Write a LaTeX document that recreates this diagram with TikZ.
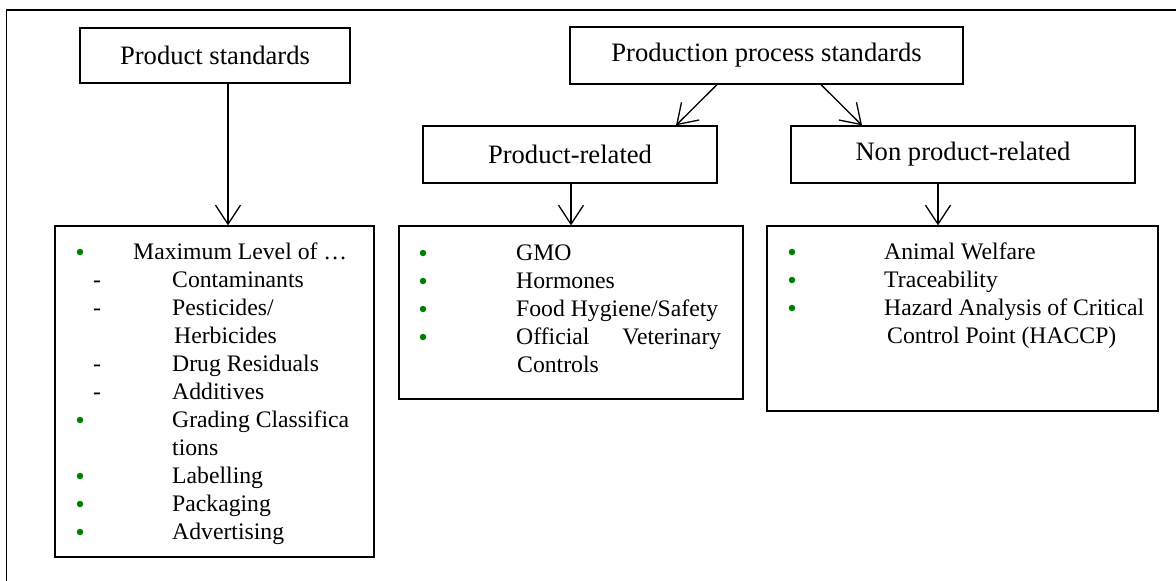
\documentclass[tikz,border=0pt]{standalone}
\usepackage{fontspec}
\setmainfont{Liberation Serif}
\usetikzlibrary{arrows.meta}
\definecolor{bulletgreen}{RGB}{0,128,0}
\begin{document}
\begin{tikzpicture}[x=1pt,y=-1pt,
  box/.style={draw,line width=1.3pt,inner sep=0pt,font=\fontsize{26.6}{30}\selectfont},
  lbox/.style={draw,line width=1.3pt,inner sep=0pt},
  arr/.style={line width=1.3pt,-{Straight Barb[length=19pt,width=25pt,line width=1.3pt]}},
  txt/.style={anchor=base west,inner sep=0pt,font=\fontsize{23.7}{28}\selectfont},
  dsh/.style={anchor=base,inner sep=0pt,font=\fontsize{23.7}{28}\selectfont},
  dot/.style={circle,fill=bulletgreen,inner sep=0pt,minimum size=6.5pt},
]
\useasboundingbox (0,0) rectangle (1176,581);
% outer frame (only top and left visible)
\coordinate (fbl) at (6.5,581);
\coordinate (ftl) at (6.5,10);
\coordinate (ftr) at (1176,10);
\draw[line width=1.8pt] (fbl) -- (ftl) -- (ftr);

% heading boxes
\node[box,minimum width=270pt,minimum height=55pt] (ps) at (215,55.5) {Product standards};
\node[box,minimum width=393pt,minimum height=57pt] (pps) at (766.5,55.5) {Production process standards};
\node[box,minimum width=294pt,minimum height=57pt] (pr) at (570,154.5) {Product-related};
\node[box,minimum width=344pt,minimum height=57pt] (npr) at (963,154.5) {Non product-related};

% list boxes
\node[lbox,minimum width=319pt,minimum height=331pt] (l1) at (214.5,391.5) {};
\node[lbox,minimum width=344pt,minimum height=173pt] (l2) at (571,312.5) {};
\node[lbox,minimum width=391pt,minimum height=185pt] (l3) at (962.5,318.5) {};

% arrows
\draw[arr] ([xshift=13pt]ps.south) -- ([xshift=13pt]ps.south |- l1.north);
\draw[arr] ([xshift=-49.5pt]pps.south) -- ([xshift=106pt]pr.north);
\draw[arr] ([xshift=54.5pt]pps.south) -- ([xshift=-101pt]npr.north);
\draw[arr] ([xshift=1pt]pr.south) -- (l2.north);
\draw[arr] ([xshift=-25pt]npr.south) -- ([xshift=-25pt]npr.south |- l3.north);

% left list
\node[dot] (b11) at (80,252) {};
\node[dot] (b12) at (80,420) {};
\node[dot] (b13) at (80,476) {};
\node[dot] (b14) at (80,504) {};
\node[dot] (b15) at (80,532) {};
\node[dsh] (d11) at (97,287) {-};
\node[dsh] (d12) at (97,315) {-};
\node[dsh] (d13) at (97,371) {-};
\node[dsh] (d14) at (97,399) {-};
\node[txt] (t11) at (133,259) {Maximum Level of …};
\node[txt] (t12) at (172,287) {Contaminants};
\node[txt] (t13) at (172,315) {Pesticides/};
\node[txt] (t14) at (174,343) {Herbicides};
\node[txt] (t15) at (172,371) {Drug Residuals};
\node[txt] (t16) at (172,399) {Additives};
\node[txt] (t17) at (172,427) {Grading Classifica};
\node[txt] (t18) at (172,455) {tions};
\node[txt] (t19) at (172,483) {Labelling};
\node[txt] (t110) at (172,511) {Packaging};
\node[txt] (t111) at (172,539) {Advertising};

% middle list
\node[dot] (b21) at (423,253) {};
\node[dot] (b22) at (423,281) {};
\node[dot] (b23) at (423,309) {};
\node[dot] (b24) at (423,337) {};
\node[txt] (t21) at (516,260) {GMO};
\node[txt] (t22) at (516,288) {Hormones};
\node[txt] (t23) at (516,316) {Food Hygiene/Safety};
\node[txt] (t24) at (516,344) {\makebox[205pt][s]{Official Veterinary}};
\node[txt] (t25) at (517,372) {Controls};

% right list
\node[dot] (b31) at (792,252) {};
\node[dot] (b32) at (792,280) {};
\node[dot] (b33) at (792,308) {};
\node[txt] (t31) at (884,259) {Animal Welfare};
\node[txt] (t32) at (884,287) {Traceability};
\node[txt] (t33) at (884,315) {Hazard Analysis of Critical};
\node[txt] (t34) at (887,343) {Control Point (HACCP)};
\end{tikzpicture}
\end{document}
